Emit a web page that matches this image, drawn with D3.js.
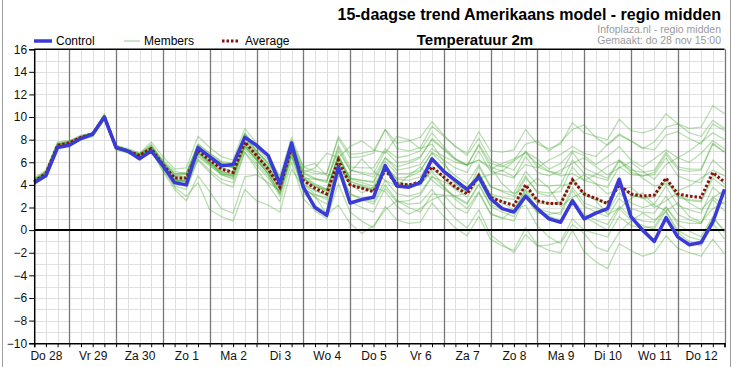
<!DOCTYPE html>
<html><head><meta charset="utf-8">
<script src="https://cdn.jsdelivr.net/npm/d3@7"></script>
<style>
html,body{margin:0;padding:0;background:#fff;}
svg{display:block;font-family:"Liberation Sans",Arial,sans-serif;}
</style></head>
<body><svg id="c" width="732" height="367"></svg>
<script>
const dayLabels = ["Do 28","Vr 29","Za 30","Zo 1","Ma 2","Di 3","Wo 4","Do 5","Vr 6","Za 7","Zo 8","Ma 9","Di 10","Wo 11","Do 12"];
const yTicks = [-10,-8,-6,-4,-2,0,2,4,6,8,10,12,14,16];

const control = [4.2,4.8,7.3,7.5,8.1,8.5,10.0,7.3,7.0,6.3,7.0,5.7,4.2,4.0,7.3,6.5,5.7,5.8,8.2,7.5,6.6,4.1,7.7,3.8,2.0,1.3,5.6,2.4,2.7,2.9,5.7,3.9,3.8,4.2,6.3,5.2,4.4,3.6,4.7,2.8,1.9,1.6,3.0,1.9,1.0,0.7,2.6,1.0,1.5,1.9,4.5,1.2,0.0,-1.0,1.1,-0.6,-1.3,-1.1,0.7,3.6];
const average = [4.3,5.0,7.5,7.7,8.2,8.5,10.0,7.3,7.0,6.6,7.2,5.8,4.6,4.6,7.0,6.2,5.4,5.1,7.8,6.6,5.4,3.8,7.3,4.4,3.7,3.2,6.2,4.0,3.7,3.4,5.3,4.1,4.0,4.25,5.6,4.7,3.8,3.2,4.8,2.9,2.5,2.2,4.0,2.6,2.35,2.35,4.45,3.2,2.8,2.35,4.0,3.2,3.0,3.1,4.6,3.2,3.0,2.9,5.1,4.25];

const m1 = [4.5,5.2,7.7,7.9,8.4,8.6,10.3,7.5,7.1,6.7,7.5,6.2,5.2,5.0,7.6,6.8,6.0,5.6,8.5,7.4,6.5,4.8,8.2,5.6,5.2,5.0,8.1,6.4,6.5,6.8,8.9,7.2,7.0,7.3,9.2,8.3,7.4,6.8,8.7,7.0,6.9,7.1,8.9,7.6,7.2,7.6,9.5,8.6,8.3,8.0,9.8,8.8,8.6,8.9,10.3,9.4,9.0,9.1,11.0,10.3];
const m2 = [4.0,4.8,7.3,7.5,8.0,8.3,9.8,7.2,6.9,6.5,7.0,5.3,3.9,3.6,6.2,5.1,4.2,3.8,6.9,5.4,4.0,2.5,6.0,2.8,1.7,1.0,4.1,1.6,0.8,0.2,2.1,0.9,0.6,0.7,2.4,1.2,0.2,-0.5,1.2,-0.8,-1.4,-1.8,0.2,-1.3,-1.8,-2.0,0.0,-1.9,-2.8,-3.4,-1.2,-1.8,-2.3,-2.0,-0.5,-1.6,-2.0,-2.3,-0.8,-2.1];
const m3 = [4.2,4.9,7.4,7.6,8.1,8.4,9.9,7.2,6.9,6.5,7.1,5.2,3.6,2.6,4.8,3.4,1.9,1.5,4.7,4.9,4.2,3.5,6.5,4.6,4.5,4.4,7.0,5.3,5.0,4.7,6.4,5.3,5.5,5.8,7.2,6.5,6.0,5.8,6.2,5.4,5.9,6.3,6.8,5.9,5.2,4.8,5.0,4.4,4.9,5.6,6.2,5.5,4.6,3.9,4.1,3.5,3.9,4.6,5.3,4.8];
const m4 = [4.4,5.1,7.6,7.8,8.3,8.6,10.1,7.4,7.1,6.7,7.6,6.0,4.8,4.9,7.5,6.4,5.7,5.5,8.5,7.0,5.8,4.0,7.8,5.6,5.9,4.8,5.2,4.1,3.3,3.8,3.4,2.1,1.4,1.9,2.7,3.1,2.0,1.5,3.3,1.4,1.1,0.8,2.9,1.5,1.4,1.6,3.8,2.4,2.0,1.6,3.3,2.4,2.0,2.3,3.9,2.2,1.8,1.5,3.8,2.9];
const m5 = [4.1,4.9,7.5,7.7,8.2,8.4,9.9,7.3,7.0,6.6,7.3,5.9,4.8,4.7,7.1,6.5,5.9,5.5,8.1,6.8,5.6,4.1,7.4,5.1,4.6,4.3,7.5,5.6,5.5,5.5,7.2,6.4,6.6,7.0,8.6,7.4,6.3,5.8,6.2,5.6,4.1,3.2,3.8,4.6,3.7,2.1,2.9,3.4,2.6,1.4,1.9,2.8,3.3,2.2,1.7,2.4,1.2,0.7,1.9,2.5];
const m6 = [4.3,5.0,7.5,7.7,8.2,8.5,10.0,7.3,7.0,6.6,7.0,5.6,4.3,4.5,6.9,6.0,5.0,4.8,7.4,6.2,5.0,3.2,6.8,3.3,2.2,1.5,5.0,2.5,2.0,1.6,3.7,2.5,2.6,3.1,4.7,4.3,3.7,3.9,4.6,4.9,5.3,4.7,5.8,5.5,6.2,6.7,7.4,6.8,6.5,7.6,8.5,7.9,7.3,7.1,8.4,8.7,8.1,7.6,9.4,8.8];
const m7 = [4.6,5.3,7.8,7.9,8.3,8.6,10.2,7.5,7.2,6.8,7.8,6.5,5.4,5.5,8.3,7.3,6.5,6.2,9.0,7.7,6.5,4.6,7.9,5.1,5.5,6.8,6.4,7.4,7.9,7.1,6.8,8.3,8.0,7.2,7.6,6.1,4.1,3.4,5.1,3.0,2.4,1.8,3.5,1.9,1.2,0.7,2.5,1.2,0.6,0.0,1.9,0.9,0.4,0.1,1.7,0.0,-0.6,-0.9,1.1,0.0];
const m8 = [4.2,4.9,7.4,7.6,8.0,8.3,9.8,7.1,6.8,6.4,6.9,5.6,4.5,4.3,6.6,5.8,4.9,4.6,7.4,6.3,5.2,3.7,7.0,4.3,3.8,3.6,6.6,4.6,4.4,4.3,6.4,5.6,5.9,6.4,8.1,7.2,6.3,5.7,7.5,5.6,5.2,6.1,6.9,6.3,5.4,5.9,7.0,6.6,5.8,6.5,7.4,6.2,5.6,6.3,7.1,6.4,6.0,6.8,7.9,7.2];
const m9 = [4.3,5.0,7.5,7.6,8.1,8.4,9.9,7.2,6.9,6.5,7.1,5.7,4.5,4.4,6.8,6.0,5.2,4.9,7.6,6.4,5.2,3.6,7.1,4.0,3.2,2.7,5.6,3.2,2.7,2.3,4.0,2.6,2.3,2.4,3.6,2.2,1.0,0.2,1.8,-0.4,-1.2,-2.0,-0.4,-1.4,-1.3,-1.0,1.0,0.0,-0.3,-0.6,1.2,0.4,0.2,0.3,2.0,0.8,0.6,0.6,2.9,2.3];
const m10 = [4.4,5.1,7.6,7.8,8.3,8.6,10.1,7.3,7.0,6.7,7.4,6.1,5.0,5.1,7.6,6.8,6.1,5.9,8.6,7.3,6.2,4.4,7.6,5.0,4.5,4.2,7.3,5.3,5.1,5.0,7.0,6.0,6.1,6.5,8.0,7.1,6.2,5.7,7.6,5.9,5.6,6.2,7.6,7.9,7.0,7.8,8.9,9.3,8.2,7.5,8.4,7.9,7.2,7.8,9.1,9.4,8.6,8.3,9.7,9.0];
const m11 = [4.3,4.9,7.5,7.7,8.2,8.5,10.0,7.2,6.9,6.5,7.0,5.5,4.1,3.9,6.3,5.3,4.5,4.2,6.9,5.7,4.6,3.3,6.9,4.0,3.5,3.1,4.7,5.1,6.3,5.2,4.4,3.9,4.8,5.6,4.4,3.6,3.0,2.4,4.1,2.2,1.9,1.7,3.6,2.4,2.3,2.5,4.6,3.2,2.8,2.4,4.1,3.1,2.9,3.1,4.6,3.0,2.7,2.6,4.9,4.1];
const m12 = [4.5,5.2,7.6,7.8,8.3,8.6,10.1,7.4,7.1,6.8,7.4,6.0,4.9,5.0,7.3,6.5,5.8,5.6,8.2,7.0,6.0,4.4,7.6,4.6,3.9,3.4,6.4,4.3,4.0,3.7,5.6,4.6,4.7,5.2,6.9,6.2,5.5,5.1,7.0,5.2,4.9,4.6,6.5,5.1,4.8,5.3,5.9,6.4,5.6,4.9,5.5,6.0,5.2,4.5,5.8,6.4,7.0,7.8,8.6,8.0];
const m13 = [4.2,4.8,7.4,7.6,8.1,8.4,9.9,7.2,6.9,6.6,7.1,5.8,3.8,3.0,4.2,1.8,1.2,0.8,3.6,2.6,2.2,1.6,5.4,3.8,2.9,2.3,5.3,3.2,2.8,2.5,4.4,3.2,3.0,3.3,4.8,3.8,2.9,2.3,4.0,2.1,1.6,1.2,3.0,1.6,1.2,0.9,2.8,1.4,0.9,0.5,2.1,1.2,0.8,0.7,2.1,0.5,-0.1,-0.6,1.2,-0.2];
const m14 = [4.4,5.0,7.5,7.7,8.2,8.5,10.0,7.3,7.0,6.7,7.3,6.0,5.0,5.0,7.4,6.6,5.9,5.6,8.2,7.0,5.9,4.4,7.6,5.3,5.0,5.0,8.3,6.7,6.8,7.0,8.9,7.7,7.9,8.2,9.6,8.4,7.4,6.6,8.1,6.2,5.7,5.3,7.0,5.6,5.2,5.0,6.9,5.5,5.0,4.6,6.2,5.1,4.8,4.9,6.4,4.8,4.4,4.2,6.2,5.3];
const m15 = [4.2,5.0,7.5,7.7,8.2,8.5,10.0,7.3,7.0,6.6,7.2,5.6,4.2,4.0,6.5,5.7,4.9,4.5,7.2,5.9,4.8,3.0,6.4,3.6,3.1,2.9,6.0,4.0,3.8,3.6,5.6,4.3,4.0,4.0,5.2,3.9,2.7,1.9,3.4,1.5,1.0,1.8,2.2,0.4,-0.6,-1.2,0.5,-0.3,-1.5,-1.9,-0.2,0.8,1.5,0.9,1.6,-0.2,-1.0,-1.4,0.6,-0.8];
const m16 = [4.3,5.0,7.6,7.8,8.2,8.5,10.0,7.3,7.0,6.6,7.2,5.8,4.6,4.6,7.1,6.3,5.5,5.2,7.9,6.7,5.6,4.0,7.5,4.8,4.1,3.6,6.6,4.3,3.9,3.5,5.3,4.0,3.8,4.0,5.4,4.6,3.8,3.3,5.0,3.2,2.9,2.7,4.6,3.4,3.3,3.4,5.6,4.4,4.1,3.8,5.6,4.9,4.8,5.1,6.7,5.4,5.2,5.3,7.6,6.9];
const m17 = [4.3,5.1,7.6,7.7,8.2,8.5,10.0,7.3,7.0,6.6,7.2,5.7,4.4,4.2,6.8,5.9,5.1,4.8,7.6,6.5,5.4,3.7,7.2,4.5,3.9,3.5,6.5,4.6,4.4,4.2,6.1,5.0,5.0,5.3,6.8,5.8,4.8,4.1,5.8,3.9,3.4,3.0,4.8,3.3,3.0,3.9,4.2,4.9,4.1,3.2,3.6,3.8,2.9,2.0,2.6,3.3,2.4,1.8,2.9,3.5];
const m18 = [4.4,5.1,7.5,7.7,8.2,8.5,10.0,7.3,7.0,6.6,7.3,5.9,4.7,4.6,7.1,6.1,5.2,4.9,7.5,6.2,5.0,3.2,6.7,3.7,3.0,1.4,2.2,0.6,-0.3,0.4,1.8,2.6,2.0,1.6,3.2,3.1,3.0,3.3,5.6,3.8,3.5,3.3,5.2,4.0,3.9,4.0,6.2,5.0,4.7,4.4,6.1,5.3,5.1,5.3,6.9,5.6,5.4,5.4,7.7,6.9];
const m19 = [4.2,4.9,7.4,7.6,8.1,8.4,9.9,7.2,6.9,6.5,7.0,5.5,4.3,4.4,6.9,6.1,5.4,5.1,7.8,6.6,5.4,3.8,7.3,4.6,4.0,3.6,6.6,4.5,4.2,3.9,5.7,4.5,4.4,4.7,6.1,5.1,4.1,3.4,5.0,3.1,2.6,2.2,4.0,2.6,2.4,2.3,4.4,3.1,2.7,2.3,4.0,3.1,2.8,2.9,4.4,2.9,2.6,2.5,4.6,3.8];
const m20 = [4.3,5.0,7.4,7.7,8.2,8.5,10.0,7.3,7.0,6.6,7.1,5.7,4.4,4.3,6.8,5.9,5.0,4.7,7.4,6.2,5.0,3.4,6.9,4.1,3.5,3.1,6.1,4.0,3.7,3.4,5.3,4.1,4.0,4.2,5.6,4.6,3.6,2.9,4.5,2.5,2.0,1.6,3.3,1.9,1.6,1.4,3.5,2.1,1.6,1.2,2.8,1.9,1.6,1.5,3.0,1.4,0.9,0.6,2.7,1.7];
const members = [m1,m2,m3,m4,m5,m6,m7,m8,m9,m10,m11,m12,m13,m14,m15,m16,m17,m18,m19,m20];

const svg = d3.select("#c");
const t0 = new Date(Date.UTC(2019,10,28,6));
const t1 = new Date(Date.UTC(2019,11,13,0));
const timeAt = i => new Date(t0.getTime() + i*6*3600e3);
const x = d3.scaleUtc().domain([t0,t1]).range([34.2,724.5]);
const y = d3.scaleLinear().domain([-10,16]).range([343.2,49.2]);
const X0 = x.range()[0], X1 = x.range()[1], Y0 = y.range()[0], Y1 = y.range()[1];

// outer frame
svg.append("line").attr("x1",2.5).attr("x2",2.5).attr("y1",0).attr("y2",367).attr("stroke","#a0a0a0");
svg.append("line").attr("x1",730.5).attr("x2",730.5).attr("y1",0).attr("y2",367).attr("stroke","#a0a0a0");

// grid
const g = svg.append("g");
g.selectAll(".hg").data(d3.range(-10,17,1)).join("line")
  .attr("x1",X0).attr("x2",X1).attr("y1",d=>Math.round(y(d))+0.5).attr("y2",d=>Math.round(y(d))+0.5)
  .attr("stroke","#dfdfdf").attr("stroke-width",1);
const sixH = d3.utcHour.every(6).range(t0, new Date(t1.getTime()+1));
g.selectAll(".vg").data(sixH).join("line")
  .attr("x1",d=>Math.round(x(d))+0.5).attr("x2",d=>Math.round(x(d))+0.5).attr("y1",Y1).attr("y2",Y0)
  .attr("stroke",d=>d.getUTCHours()===0?"#777":"#dfdfdf").attr("stroke-width",d=>d.getUTCHours()===0?1.3:1);

// members
const line = d3.line().x((d,i)=>x(timeAt(i))).y(d=>y(d));
svg.append("g").selectAll("path").data(members).join("path")
  .attr("d",line).attr("fill","none").attr("stroke","#46ab35").attr("stroke-opacity",0.38)
  .attr("stroke-width",1.3).attr("stroke-linejoin","round");

// zero line
svg.append("line").attr("x1",X0).attr("x2",X1).attr("y1",y(0)).attr("y2",y(0)).attr("stroke","#000").attr("stroke-width",2);

// average
svg.append("path").datum(average).attr("d",line).attr("fill","none").attr("stroke","#8a0f0f")
  .attr("stroke-width",3).attr("stroke-dasharray","2.5,2");
// control
svg.append("path").datum(control).attr("d",line).attr("fill","none").attr("stroke","#3a3ad8")
  .attr("stroke-width",3.5).attr("stroke-linejoin","round");

// axes
const yAxis = d3.axisLeft(y).tickValues(yTicks).tickSize(5).tickPadding(2);
const ya = svg.append("g").attr("transform",`translate(${X0},0)`).call(yAxis);
ya.select(".domain").attr("stroke","#000").attr("stroke-width",1.5);
ya.selectAll("text").attr("font-size",12).attr("font-family","Liberation Sans, Arial, sans-serif").attr("fill","#111");

const xAxis = d3.axisBottom(x).tickValues(sixH).tickSize(4).tickFormat("");
const xa = svg.append("g").attr("transform",`translate(0,${Y0})`).call(xAxis);
xa.select(".domain").attr("stroke","#000").attr("stroke-width",1.5);

const noons = dayLabels.map((d,i)=>new Date(Date.UTC(2019,10,28,12)+i*86400e3));
const xLab = d3.axisBottom(x).tickValues(noons).tickSize(0).tickPadding(8).tickFormat((d,i)=>dayLabels[i]);
const xl = svg.append("g").attr("transform",`translate(0,${Y0})`).call(xLab);
xl.select(".domain").remove();
xl.selectAll("text").attr("font-size",12).attr("font-family","Liberation Sans, Arial, sans-serif").attr("fill","#111");

// top border
svg.append("line").attr("x1",X0).attr("x2",X1).attr("y1",Y1).attr("y2",Y1).attr("stroke","#000").attr("stroke-width",1.5);

// titles
svg.append("text").attr("x",721).attr("y",20).attr("text-anchor","end").attr("font-size",16).attr("font-weight","bold")
  .text("15-daagse trend Amerikaans model - regio midden");
svg.append("text").attr("x",475).attr("y",45).attr("text-anchor","middle").attr("font-size",15).attr("font-weight","bold")
  .text("Temperatuur 2m");
svg.append("text").attr("x",721).attr("y",33).attr("text-anchor","end").attr("font-size",10.5).attr("fill","#9a9a9a")
  .text("Infoplaza.nl - regio midden");
svg.append("text").attr("x",721).attr("y",44).attr("text-anchor","end").attr("font-size",10.5).attr("fill","#9a9a9a")
  .text("Gemaakt: do 28 nov 15:00");

// legend
const lg = svg.append("g");
lg.append("line").attr("x1",34).attr("x2",52).attr("y1",41).attr("y2",41).attr("stroke","#3a3ad8").attr("stroke-width",3.5);
lg.append("text").attr("x",56).attr("y",45).attr("font-size",12).text("Control");
lg.append("line").attr("x1",124).attr("x2",140).attr("y1",41).attr("y2",41).attr("stroke","#46ab35").attr("stroke-opacity",0.45).attr("stroke-width",1.3);
lg.append("text").attr("x",144).attr("y",45).attr("font-size",12).text("Members");
lg.append("line").attr("x1",222).attr("x2",238).attr("y1",41).attr("y2",41).attr("stroke","#8a0f0f").attr("stroke-width",3).attr("stroke-dasharray","2.5,2");
lg.append("text").attr("x",245).attr("y",45).attr("font-size",12).text("Average");
</script></body></html>
